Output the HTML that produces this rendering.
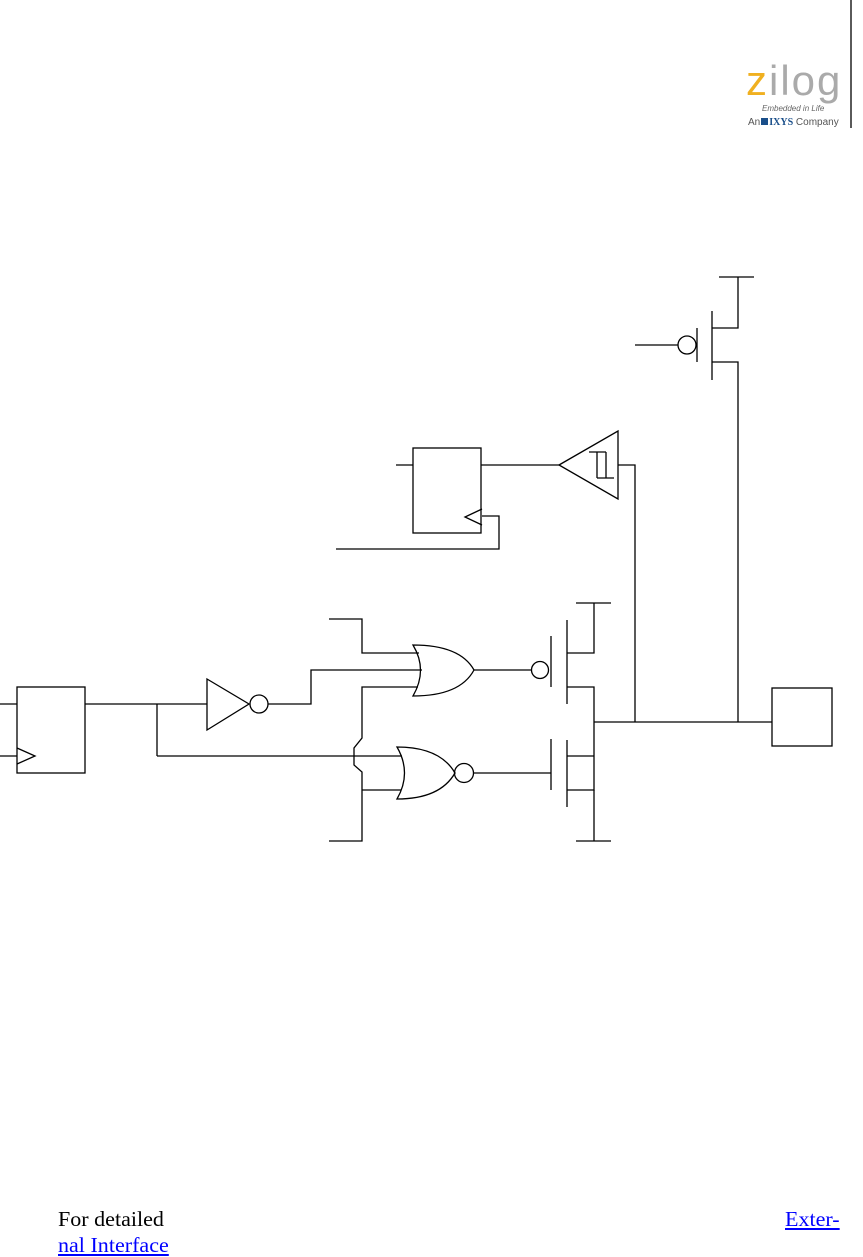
<!DOCTYPE html>
<html><head><meta charset="utf-8"><style>
body{margin:0;width:863px;height:1256px;background:#fff;position:relative;overflow:hidden;font-family:"Liberation Serif",serif}
.t{position:absolute;font-size:21px;line-height:24px;transform:scaleX(1.05);transform-origin:left top}
a{color:#00f;text-decoration:underline}
</style></head><body>
<svg width="863" height="1256" style="position:absolute;left:0;top:0" fill="none" stroke="#000" stroke-width="1.3">
<line x1="851" y1="0" x2="851" y2="128"/>
<line x1="635" y1="345" x2="678" y2="345"/><circle cx="687" cy="345" r="9"/>
<line x1="697" y1="328" x2="697" y2="362"/><line x1="712" y1="311" x2="712" y2="380"/>
<polyline points="712,328 738,328 738,277"/><line x1="719" y1="277" x2="754" y2="277"/>
<polyline points="712,362 738,362 738,722"/>
<rect x="413" y="448" width="68" height="85"/>
<line x1="396" y1="465" x2="413" y2="465"/>
<polyline points="482,509 465,517 482,525"/>
<polyline points="482,516 499,516 499,549 336,549"/>
<line x1="481" y1="465" x2="559" y2="465"/>
<polygon points="559,465 618,431 618,499"/>
<line x1="589" y1="452" x2="606" y2="452"/>
<line x1="597" y1="452" x2="597" y2="478"/>
<line x1="606" y1="452" x2="606" y2="478"/>
<line x1="597" y1="478" x2="614" y2="478"/>
<polyline points="618,465 635,465 635,722"/>
<path d="M413,645 Q460,645 474,670 Q460,696 413,696 Q428,670 413,645Z"/>
<polyline points="329,619 362,619 362,653 419,653"/>
<polyline points="268,704 311,704 311,670 422,670"/>
<polyline points="418,687 362,687 362,738 354,748 354,765 362,772 362,841 329,841"/>
<line x1="474" y1="670" x2="531" y2="670"/><circle cx="540" cy="670" r="8.5"/>
<line x1="551" y1="636" x2="551" y2="687"/><line x1="567" y1="620" x2="567" y2="704"/>
<polyline points="567,653 594,653 594,603"/><line x1="576" y1="603" x2="611" y2="603"/>
<polyline points="567,687 594,687 594,790 567,790"/>
<line x1="594" y1="722" x2="772" y2="722"/>
<path d="M397,747 Q440,747 455,773 Q440,799 397,799 Q412,773 397,747Z"/>
<circle cx="464" cy="773" r="9.5"/>
<line x1="473" y1="773" x2="551" y2="773"/>
<line x1="157" y1="756" x2="402" y2="756"/>
<line x1="362" y1="790" x2="401" y2="790"/>
<line x1="551" y1="739" x2="551" y2="790"/><line x1="567" y1="740" x2="567" y2="807"/>
<line x1="567" y1="756" x2="594" y2="756"/>
<line x1="594" y1="790" x2="594" y2="841"/><line x1="576" y1="841" x2="611" y2="841"/>
<rect x="772" y="688" width="60" height="58"/>
<rect x="17" y="687" width="68" height="86"/>
<line x1="0" y1="704" x2="17" y2="704"/><line x1="0" y1="756" x2="17" y2="756"/>
<polyline points="17,748 35,756 17,764"/>
<line x1="85" y1="704" x2="207" y2="704"/>
<line x1="157" y1="704" x2="157" y2="756"/>
<polygon points="207,679 249,704 207,730"/><circle cx="259" cy="704" r="9"/>
</svg>
<div style="position:absolute;left:746px;top:60px;font-family:'Liberation Sans',sans-serif;font-size:42px;line-height:42px;color:#aaa;letter-spacing:2px"><span style="color:#f0b020">z</span>ilog</div>
<div style="position:absolute;left:762px;top:104px;font-family:'Liberation Sans',sans-serif;font-size:8px;font-style:italic;color:#666">Embedded in Life</div>
<div style="position:absolute;left:748px;top:117px;font-family:'Liberation Sans',sans-serif;font-size:10px;color:#555">An<span style="display:inline-block;width:7px;height:7px;background:#1a4f8a;margin:0 1px"></span><b style="font-family:'Liberation Serif',serif;color:#1a4f8a">IXYS</b> Company</div>
<div class="t" style="left:58px;top:1207px">For detailed</div>
<div class="t" style="left:785px;top:1207px"><a>Exter-</a></div>
<div class="t" style="left:58px;top:1233px"><a>nal Interface</a></div>
</body></html>
